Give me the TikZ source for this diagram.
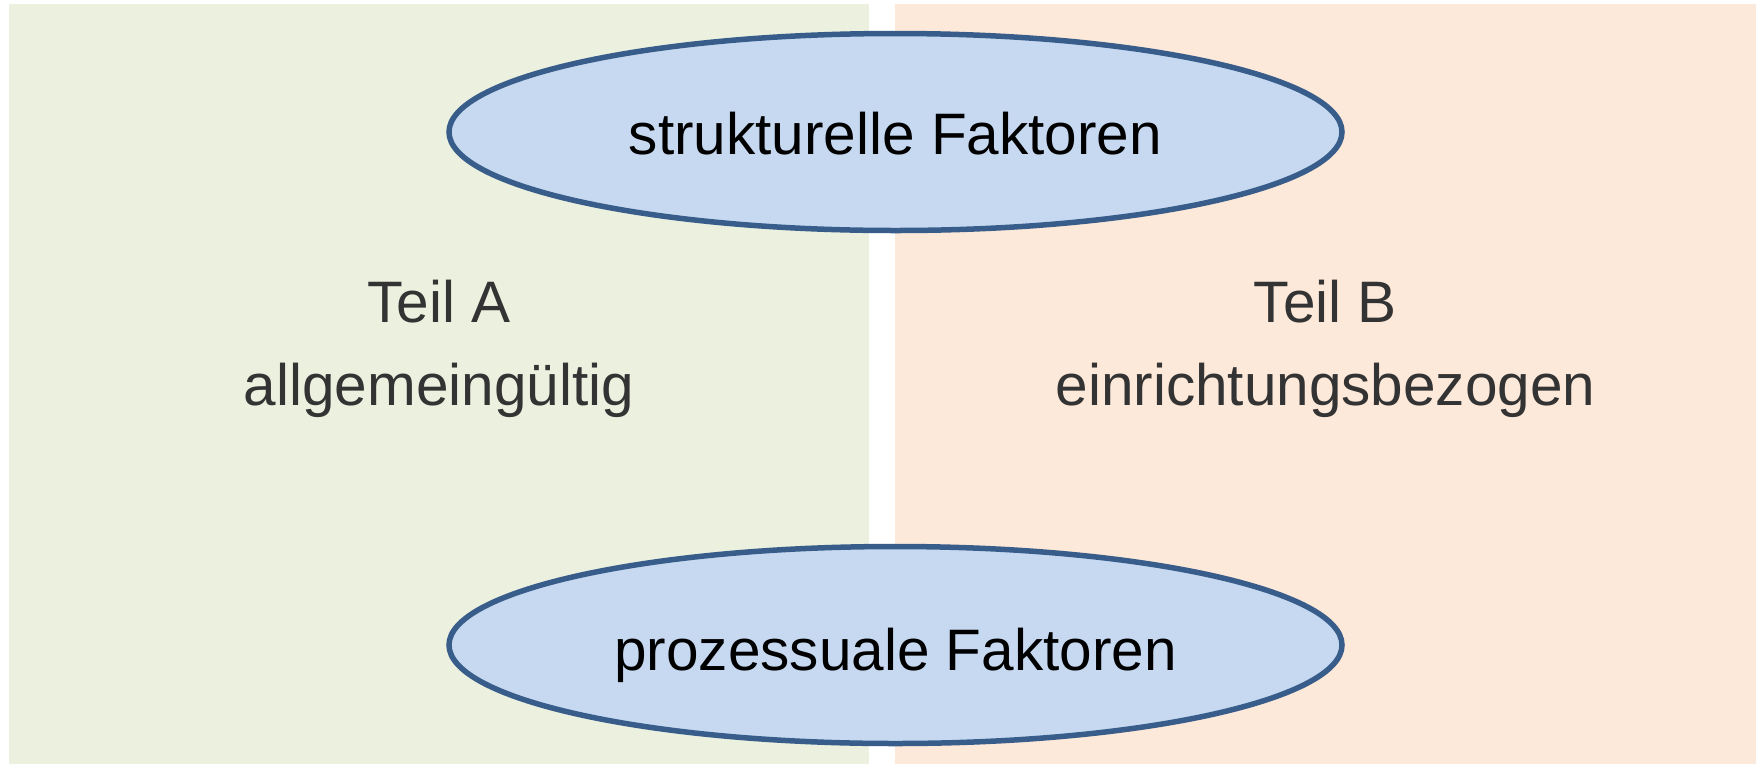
\documentclass[tikz,border=0pt]{standalone}
\usepackage{fontspec}
\setmainfont{Liberation Sans}
\usetikzlibrary{shapes.geometric}
\definecolor{panelA}{HTML}{EBF0DF}
\definecolor{panelB}{HTML}{FDE9DA}
\definecolor{ovalfill}{HTML}{C6D9F1}
\definecolor{ovaldraw}{HTML}{385D8A}
\definecolor{labelgray}{HTML}{333333}
\tikzset{
  panel/.style={draw=none, inner sep=0pt, anchor=north west},
  factor/.style={ellipse, draw=ovaldraw, fill=ovalfill, line width=5.5pt,
    minimum width=893pt, minimum height=197pt, inner sep=0pt,
    font=\fontsize{58.5}{70}\selectfont, text=black, text depth=0pt},
  partlabel/.style={anchor=base, inner sep=0pt, text=labelgray,
    font=\fontsize{58.5}{70}\selectfont}
}
\begin{document}
\begin{tikzpicture}[x=1pt, y=-1pt]
  \useasboundingbox (0,0) rectangle (1756,764);
  % the two background halves
  \node[panel, fill=panelA, minimum width=860pt, minimum height=760pt] (left) at (9,4) {};
  \node[panel, fill=panelB, minimum width=861pt, minimum height=760pt] (right) at (895,4) {};
  % labels of the two parts
  \node[partlabel] (teilA) at (439,322.5) {Teil A};
  \node[partlabel] (allg) at (439,405) {allgemeingültig};
  \node[partlabel] (teilB) at (1325.5,322.5) {Teil B};
  \node[partlabel] (einr) at (1325.5,405) {einrichtungsbezogen};
  % the two factor groups spanning both halves
  \node[factor, text height=44pt] (struct) at (895.5,132) {strukturelle Faktoren};
  \node[factor, text height=50pt] (proz) at (895.5,645) {prozessuale Faktoren};
\end{tikzpicture}
\end{document}
